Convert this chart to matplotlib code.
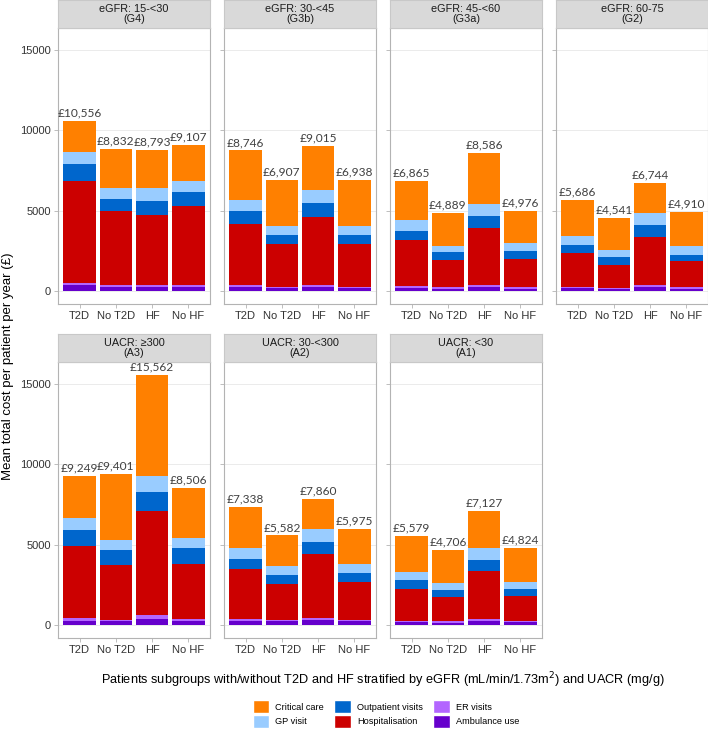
import numpy as np
import matplotlib
matplotlib.use('Agg')
import matplotlib.pyplot as plt
from matplotlib.patches import Patch

plt.rcParams['font.family'] = ['Liberation Sans', 'DejaVu Sans']

groups = ['T2D', 'No T2D', 'HF', 'No HF']
panels = ['eGFR: 15-<30\n(G4)', 'eGFR: 30-<45\n(G3b)', 'eGFR: 45-<60\n(G3a)', 'eGFR: 60-75\n(G2)',
          'UACR: \u2265300\n(A3)', 'UACR: 30-<300\n(A2)', 'UACR: <30\n(A1)']

# mean totals per panel (label values)
totals = [[10556, 8832, 8793, 9107],
          [8746, 6907, 9015, 6938],
          [6865, 4889, 8586, 4976],
          [5686, 4541, 6744, 4910],
          [9249, 9401, 15562, 8506],
          [7338, 5582, 7860, 5975],
          [5579, 4706, 7127, 4824]]

ambulance = [[370, 290, 290, 290],
             [290, 200, 290, 200],
             [200, 165, 290, 165],
             [200, 165, 290, 165],
             [290, 250, 370, 290],
             [290, 250, 330, 250],
             [200, 165, 290, 200]]
er_visits = [[170, 120, 130, 130],
             [120, 90, 140, 90],
             [130, 85, 120, 85],
             [90, 35, 120, 85],
             [160, 80, 250, 80],
             [80, 80, 160, 80],
             [90, 85, 80, 90]]
hospitalisation = [[6300, 4550, 4340, 4910],
                   [3800, 2660, 4200, 2660],
                   [2850, 1710, 3520, 1770],
                   [2090, 1450, 2980, 1610],
                   [4450, 3420, 6470, 3460],
                   [3110, 2270, 3920, 2370],
                   [2000, 1520, 2990, 1540]]
outpatient = [[1090, 800, 830, 850],
              [750, 560, 870, 560],
              [580, 460, 720, 480],
              [490, 480, 740, 430],
              [1010, 930, 1210, 950],
              [620, 510, 760, 560],
              [510, 460, 700, 440]]
gp_visit = [[730, 670, 830, 660],
            [700, 540, 780, 540],
            [660, 430, 760, 480],
            [560, 450, 730, 500],
            [750, 640, 990, 660],
            [680, 560, 810, 530],
            [540, 410, 720, 450]]

components = ['Ambulance use', 'ER visits', 'Hospitalisation', 'Outpatient visits', 'GP visit', 'Critical care']
colors = {'Critical care': '#FF8000', 'GP visit': '#99CCFF', 'Outpatient visits': '#0066CC',
          'Hospitalisation': '#CC0000', 'ER visits': '#B366FF', 'Ambulance use': '#6600CC'}

W, H = 708, 732
fig = plt.figure(figsize=(W / 100, H / 100), dpi=100)

lefts = [58, 224, 390, 556]
pw = 152
rows = [(0, 28, 304), (334, 362, 638)]  # strip top, axes top, axes bottom

x = np.arange(1, 5)
for i, name in enumerate(panels):
    r, c = divmod(i, 4)
    st, at, ab = rows[r]
    L = lefts[c]
    ax = fig.add_axes([L / W, 1 - ab / H, pw / W, (ab - at) / H])
    sax = fig.add_axes([L / W, 1 - at / H, pw / W, (at - st) / H])
    sax.set_facecolor('#D9D9D9')
    sax.set_xticks([])
    sax.set_yticks([])
    for s in sax.spines.values():
        s.set_color('#C8C8C8')
        s.set_linewidth(0.8)
    sax.text(0.5, 0.5, name, ha='center', va='center', fontsize=7.8, color='#1A1A1A',
             linespacing=0.95, transform=sax.transAxes)

    parts = [np.array(ambulance[i]), np.array(er_visits[i]), np.array(hospitalisation[i]),
             np.array(outpatient[i]), np.array(gp_visit[i])]
    crit = np.array(totals[i]) - sum(parts)
    parts.append(crit)
    bottom = np.zeros(4)
    for comp, vals in zip(components, parts):
        ax.bar(x, vals, 0.9, bottom=bottom, color=colors[comp], linewidth=0, zorder=2)
        bottom = bottom + vals
    for xi, t in zip(x, totals[i]):
        ax.text(xi, t + 150, '\u00a3{:,}'.format(t), ha='center', va='bottom', fontsize=8.6,
                color='#404040', family=['Lato', 'DejaVu Sans'], zorder=3)

    ax.set_xlim(0.4, 4.6)
    ax.set_ylim(-778, 16340)
    ax.set_yticks([0, 5000, 10000, 15000])
    ax.set_xticks(x)
    ax.set_xticklabels(groups, fontsize=8, color='#333333')
    if c == 0:
        ax.set_yticklabels(['0', '5000', '10000', '15000'], fontsize=8, color='#333333')
    else:
        ax.set_yticklabels([])
    ax.tick_params(length=3, color='#B3B3B3', width=0.6, pad=2)
    ax.grid(axis='y', color='#EBEBEB', linewidth=0.7, zorder=0)
    ax.set_axisbelow(True)
    for s in ax.spines.values():
        s.set_color('#B3B3B3')
        s.set_linewidth(0.8)

fig.text(8 / W, 1 - 366 / H, 'Mean total cost per patient per year (\u00a3)', rotation=90,
         ha='center', va='center', fontsize=9.5)
fig.text(383 / W, 1 - 680 / H,
         'Patients subgroups with/without T2D and HF stratified by eGFR (mL/min/1.73m$^2$) and UACR (mg/g)',
         ha='center', va='center', fontsize=9.2)

legend_order = ['Critical care', 'GP visit', 'Outpatient visits', 'Hospitalisation', 'ER visits', 'Ambulance use']
handles = [Patch(facecolor=colors[k], edgecolor='white', label=k) for k in legend_order]
fig.legend(handles=handles, ncol=3, loc='center', bbox_to_anchor=(386 / W, 1 - 714 / H),
           frameon=False, fontsize=6.6, handlelength=1.8, handleheight=1.8, columnspacing=1.1,
           handletextpad=0.7, labelspacing=0.15, borderpad=0.2)

fig.savefig('out.png', dpi=100)
